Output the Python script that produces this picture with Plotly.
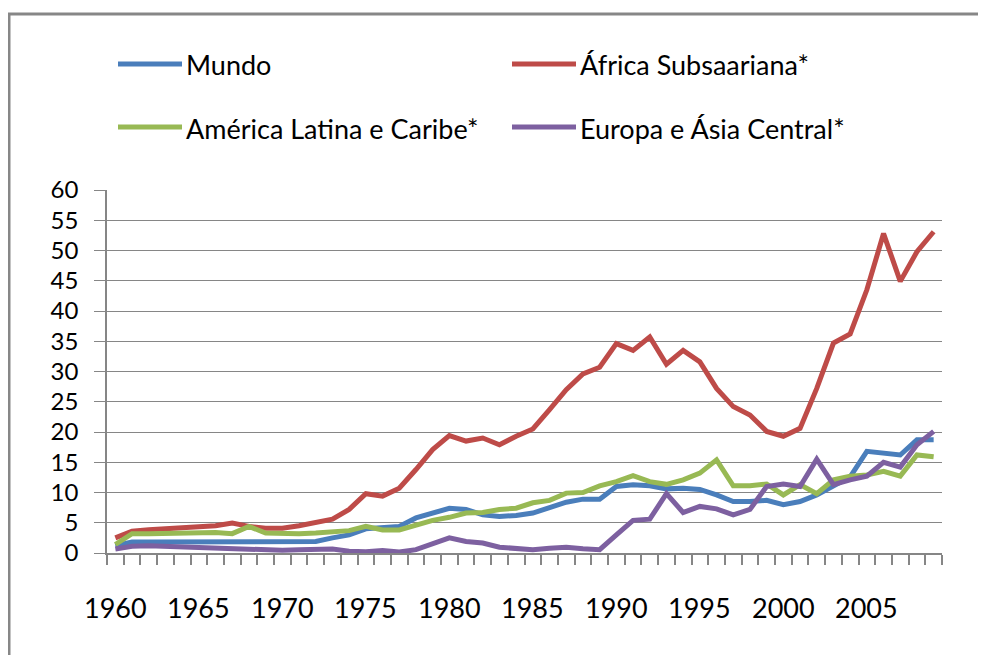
import plotly.graph_objects as go

years = list(range(1960, 2010))

mundo = [1.2, 1.8, 1.8, 1.8, 1.8, 1.8, 1.8, 1.8, 1.8, 1.8,
         1.8, 1.85, 1.9, 2.5, 3.0, 4.0, 4.1, 4.4, 5.8, 6.6,
         7.4, 7.2, 6.3, 6.05, 6.2, 6.6, 7.4, 8.4, 8.9, 8.9,
         11.0, 11.3, 11.1, 10.6, 10.7, 10.5, 9.6, 8.5, 8.5, 8.7,
         8.0, 8.5, 9.6, 11.0, 12.6, 16.8, 16.4, 16.2, 18.7, 18.7]

africa = [2.5, 3.6, 3.85, 4.0, 4.2, 4.4, 4.5, 4.95, 4.4, 4.1,
          4.1, 4.5, 4.95, 5.6, 7.2, 9.8, 9.4, 10.7, 13.8, 17.1,
          19.4, 18.5, 19.0, 17.9, 19.3, 20.5, 23.7, 27.0, 29.6, 30.7,
          34.6, 33.5, 35.7, 31.2, 33.5, 31.6, 27.2, 24.2, 22.8, 20.1,
          19.3, 20.6, 27.2, 34.7, 36.2, 43.5, 52.8, 44.9, 49.8, 53.1]

america = [1.4, 3.2, 3.2, 3.3, 3.3, 3.4, 3.4, 3.2, 4.4, 3.3,
           3.2, 3.2, 3.3, 3.6, 3.7, 4.4, 3.8, 3.8, 4.7, 5.4,
           5.9, 6.6, 6.7, 7.2, 7.4, 8.3, 8.7, 9.9, 10.0, 11.1,
           11.8, 12.8, 11.8, 11.35, 12.1, 13.2, 15.4, 11.1, 11.1, 11.4,
           9.6, 11.3, 9.8, 12.1, 12.7, 12.9, 13.5, 12.7, 16.2, 15.9]

europa = [0.65, 1.1, 1.2, 1.1, 1.0, 0.95, 0.8, 0.65, 0.45, 0.4,
          0.45, 0.55, 0.7, 0.65, 0.3, 0.2, 0.4, 0.15, 0.55, 1.5,
          2.5, 1.9, 1.65, 0.95, 0.65, 0.55, 0.8, 0.95, 0.7, 0.55,
          3.0, 5.4, 5.6, 9.8, 6.7, 7.7, 7.3, 6.3, 7.2, 11.0,
          11.4, 11.0, 15.5, 11.3, 12.1, 12.7, 15.0, 14.2, 17.9, 20.1]

names = ["Mundo", "África Subsaariana*", "América Latina e Caribe*", "Europa e Ásia Central*"]
series = [mundo, africa, america, europa]
colors = ["#4A7EBB", "#BE4B48", "#98B954", "#7D60A0"]

x_tickvals = list(range(1960, 2010, 5))
x_ticktext = [str(v) for v in x_tickvals]
x_boundaries = [y - 0.5 for y in years] + [years[-1] + 0.5]

# the page body adds an 8px offset; layout is specified in screen pixels
OFF = 8
W, H = 986, 655
PL, PR, PT, PB = 107, 942, 190, 553     # plot area on screen
ML, MR, MT, MB = PL - OFF, W - (PR - OFF), PT - OFF, H - (PB - OFF)
PW, PH = W - ML - MR, H - MT - MB

def px(xs):
    return (xs - PL) / PW

def py(ys):
    return (PB - ys) / PH

FONT = "Lato, Carlito, Calibri, sans-serif"
GRID = "#868686"

fig = go.Figure()
for name, vals, col in zip(names, series, colors):
    fig.add_trace(go.Scatter(x=years, y=vals, name=name, mode="lines",
                             line=dict(color=col, width=5), showlegend=False))

# manual legend (2 columns x 2 rows)
col_x = [118, 512]
row_y = [64, 127]
shapes = []
annotations = []
for i, (name, col) in enumerate(zip(names, colors)):
    cx = col_x[i % 2]
    ry = row_y[i // 2]
    shapes.append(dict(type="line", xref="paper", yref="paper",
                       x0=px(cx), x1=px(cx + 64), y0=py(ry), y1=py(ry),
                       line=dict(color=col, width=5)))
    annotations.append(dict(text=name, xref="paper", yref="paper",
                            x=px(cx + 66), y=py(ry + 1), xanchor="left", yanchor="middle",
                            showarrow=False, font=dict(family=FONT, size=27, color="#000000")))

# category labels of the x axis (every 5 years, centred on the category)
for v, t in zip(x_tickvals, x_ticktext):
    annotations.append(dict(text=t, xref="x", yref="paper", x=v, y=py(607),
                            xanchor="center", yanchor="middle", showarrow=False,
                            font=dict(family=FONT, size=27, color="#000000")))

# outer frame (top and left edges visible)
shapes.append(dict(type="line", xref="paper", yref="paper",
                   x0=px(8), x1=px(W + 20), y0=py(14), y1=py(14),
                   line=dict(color="#878787", width=3)))
shapes.append(dict(type="line", xref="paper", yref="paper",
                   x0=px(9), x1=px(9), y0=py(13), y1=py(H + 20),
                   line=dict(color="#878787", width=3)))

fig.update_layout(
    width=W, height=H,
    margin=dict(l=ML, r=MR, t=MT, b=MB, pad=0, autoexpand=False),
    paper_bgcolor="white", plot_bgcolor="white",
    font=dict(family=FONT, size=27, color="#000000"),
    shapes=shapes, annotations=annotations,
    showlegend=False,
)

# x axis: tick marks at category boundaries, no tick labels on the axis itself
fig.update_xaxes(
    range=[1959.5, 2009.5], automargin=False,
    tickmode="array", tickvals=x_boundaries, ticktext=["" for _ in x_boundaries],
    showticklabels=False,
    ticks="outside", ticklen=10, tickcolor=GRID, tickwidth=1.5,
    showgrid=False, zeroline=False,
    showline=True, linecolor=GRID, linewidth=1.5,
)

fig.update_yaxes(
    range=[0, 60], tickmode="linear", tick0=0, dtick=5, automargin=False,
    showgrid=True, gridcolor=GRID, gridwidth=1.3, zeroline=False,
    showline=True, linecolor=GRID, linewidth=1.5,
    ticks="outside", ticklen=11, tickcolor=GRID, tickwidth=1.3,
    ticklabelstandoff=11,
    tickfont=dict(family=FONT, size=24, color="#000000"),
)

fig.write_html("out.html")
